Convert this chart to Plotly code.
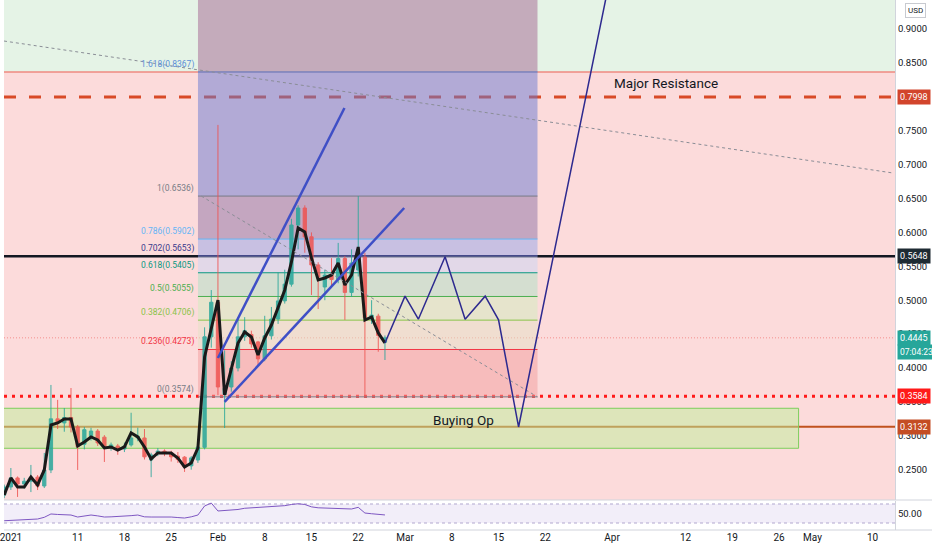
import plotly.graph_objects as go
import pandas as pd

# daily candles, Dec 31 2020 -> Feb 26 2021
dates = pd.date_range("2020-12-31", "2021-02-26", freq="D")
opens = [0.2127, 0.2245, 0.2378, 0.2289, 0.2330, 0.2390, 0.2260, 0.2496, 0.3250, 0.3190,
         0.3270, 0.3130, 0.2875, 0.2990, 0.3070, 0.2980, 0.2840, 0.2850, 0.2805, 0.2865,
         0.2968, 0.2968, 0.2643, 0.2740, 0.2775, 0.2745, 0.2700, 0.2685, 0.2556, 0.2643,
         0.2830, 0.4460, 0.4970, 0.3610, 0.3720, 0.4000, 0.4460, 0.4495, 0.4385, 0.4135,
         0.4475, 0.4722, 0.4990, 0.5237, 0.6109, 0.6360, 0.5935, 0.5520, 0.5195, 0.5375,
         0.5305, 0.5615, 0.5115, 0.5445, 0.5635, 0.4720, 0.4765, 0.4380]
highs = [0.2280, 0.2525, 0.2400, 0.2380, 0.2570, 0.2420, 0.2747, 0.3750, 0.3530, 0.3410,
         0.3705, 0.3160, 0.3130, 0.3118, 0.3100, 0.3010, 0.2900, 0.2880, 0.2900, 0.3340,
         0.3120, 0.3100, 0.2750, 0.2820, 0.2800, 0.2780, 0.2760, 0.2700, 0.2700, 0.2880,
         0.4600, 0.5150, 0.7585, 0.4260, 0.4100, 0.4750, 0.4750, 0.4550, 0.4400, 0.4770,
         0.4900, 0.5410, 0.5450, 0.6200, 0.6400, 0.6400, 0.6000, 0.5560, 0.5450, 0.5620,
         0.5845, 0.5650, 0.5750, 0.6536, 0.5700, 0.5000, 0.4800, 0.4480]
lows = [0.2080, 0.2201, 0.2098, 0.2220, 0.2170, 0.2200, 0.2230, 0.2450, 0.3100, 0.3060,
        0.3050, 0.2496, 0.2800, 0.2930, 0.2850, 0.2614, 0.2780, 0.2720, 0.2760, 0.2840,
        0.2920, 0.2650, 0.2390, 0.2700, 0.2700, 0.2620, 0.2600, 0.2467, 0.2500, 0.2600,
        0.2800, 0.4300, 0.3600, 0.3115, 0.3650, 0.3950, 0.4400, 0.4300, 0.4040, 0.4100,
        0.4420, 0.4650, 0.4950, 0.5200, 0.5750, 0.5700, 0.5077, 0.4870, 0.5000, 0.5200,
        0.5250, 0.4710, 0.5050, 0.5350, 0.3574, 0.4650, 0.4240, 0.4118]
closes = [0.2245, 0.2378, 0.2289, 0.2330, 0.2390, 0.2260, 0.2496, 0.3250, 0.3190, 0.3270,
          0.3130, 0.2840, 0.3090, 0.3070, 0.2895, 0.2840, 0.2865, 0.2790, 0.2850, 0.2968,
          0.2990, 0.2690, 0.2717, 0.2775, 0.2740, 0.2690, 0.2650, 0.2542, 0.2674, 0.2835,
          0.4460, 0.4970, 0.3720, 0.3700, 0.4000, 0.4460, 0.4550, 0.4355, 0.4135, 0.4475,
          0.4722, 0.4990, 0.5237, 0.6109, 0.6360, 0.5935, 0.5520, 0.5340, 0.5370, 0.5305,
          0.5615, 0.5115, 0.5548, 0.5635, 0.4743, 0.4780, 0.4480, 0.4445]
ma_line = [0.2127, 0.2378, 0.2245, 0.2245, 0.2393, 0.2275, 0.2496, 0.3160, 0.3189, 0.3248,
           0.3248, 0.2850, 0.2909, 0.2983, 0.2938, 0.2820, 0.2835, 0.2790, 0.2835, 0.3042,
           0.2983, 0.2835, 0.2658, 0.2747, 0.2747, 0.2747, 0.2673, 0.2540, 0.2599, 0.2820,
           0.4162, 0.4605, 0.5003, 0.3602, 0.3971, 0.4369, 0.4531, 0.4457, 0.4192, 0.4443,
           0.4634, 0.4900, 0.5151, 0.5564, 0.6065, 0.6006, 0.5623, 0.5298, 0.5328, 0.5372,
           0.5549, 0.5224, 0.5372, 0.5785, 0.4708, 0.4753, 0.4517, 0.4369]
rsi = [34.8, 35.5, 35.5, 36.3, 37.5, 38.4, 42.0, 49.0, 48.0, 47.5,
       46.8, 42.6, 44.0, 46.8, 45.0, 42.6, 43.0, 43.5, 44.7, 45.5,
       46.8, 43.0, 42.6, 43.0, 43.0, 42.6, 41.5, 40.5, 43.0, 46.8,
       65.8, 72.0, 55.3, 56.0, 57.0, 58.5, 61.0, 62.0, 61.6, 63.0,
       63.7, 65.0, 66.5, 69.0, 70.5, 69.0, 64.0, 62.0, 61.6, 61.6,
       61.0, 60.0, 59.5, 63.0, 51.0, 49.5, 48.0, 47.0]

# horizontal levels
major_res = 0.7998
pivot = 0.5648
dotted_support = 0.3584
buy_level = 0.3132
last_price = 0.4445
zone_top = 0.8367

# fib retracement
fib_start, fib_end = "2021-01-29 00:15", "2021-03-20 20:00"
fib_ratios = ["0", "0.236", "0.382", "0.5", "0.618", "0.702", "0.786", "1", "1.618"]
fib_prices = [0.3574, 0.4273, 0.4706, 0.5055, 0.5405, 0.5653, 0.5902, 0.6536, 0.8367]

# buying opportunity box
box_end = "2021-04-28 22:00"
box_low, box_high = 0.2816, 0.3406

# drawings
wedge_up_x = ["2021-02-01", "2021-02-19 22:30"]
wedge_up_y = [0.4148, 0.7835]
wedge_lo_x = ["2021-02-02", "2021-02-28 21:00"]
wedge_lo_y = [0.3500, 0.6360]
path_x = ["2021-02-26", "2021-03-01", "2021-03-03", "2021-03-07", "2021-03-10",
          "2021-03-13", "2021-03-15", "2021-03-18", "2021-04-01"]
path_y = [0.4369, 0.5060, 0.4720, 0.5640, 0.4720, 0.5060, 0.4710, 0.3130, 0.9900]
trend_x = ["2020-12-30 23:20", "2021-05-13"]
trend_y = [0.8823, 0.6877]
fib_trend_x = ["2021-01-29 12:00", fib_end]
fib_trend_y = [0.6536, 0.3574]

x_range = ["2020-12-30 23:20", "2021-05-13 08:24"]
y_range = [0.2053, 0.9428]

tick_dates = ["2021-01-01", "2021-01-11", "2021-01-18", "2021-01-25", "2021-02-01", "2021-02-08",
              "2021-02-15", "2021-02-22", "2021-03-01", "2021-03-08", "2021-03-15", "2021-03-22",
              "2021-04-01", "2021-04-12", "2021-04-19", "2021-04-26", "2021-05-01", "2021-05-10"]
tick_text = ["2021", "11", "18", "25", "Feb", "8", "15", "22", "Mar", "8", "15", "22",
             "Apr", "12", "19", "26", "May", "10"]
price_ticks = [0.25, 0.30, 0.35, 0.40, 0.45, 0.50, 0.55, 0.60, 0.65, 0.70, 0.75, 0.80, 0.85, 0.90]

FONT = "Roboto"
fig = go.Figure()

fig.add_trace(go.Candlestick(
    x=dates, open=opens, high=highs, low=lows, close=closes,
    increasing=dict(line=dict(color="#26a69a", width=1), fillcolor="#26a69a"),
    decreasing=dict(line=dict(color="#ef5350", width=1), fillcolor="#ef5350"),
    opacity=0.85, whiskerwidth=0, showlegend=False, hoverinfo="skip"))
fig.add_trace(go.Scatter(x=dates, y=ma_line, mode="lines",
                         line=dict(color="#1a1a1a", width=3), showlegend=False))
fig.add_trace(go.Scatter(x=trend_x, y=trend_y, mode="lines",
                         line=dict(color="#8a8d96", width=1, dash="3px,3px"), showlegend=False))
fig.add_trace(go.Scatter(x=fib_trend_x, y=fib_trend_y, mode="lines",
                         line=dict(color="#8a8d96", width=1, dash="3px,3px"), showlegend=False))
for wx, wy in [(wedge_up_x, wedge_up_y), (wedge_lo_x, wedge_lo_y)]:
    fig.add_trace(go.Scatter(x=wx, y=wy, mode="lines",
                             line=dict(color="#3f4fc6", width=2.5), showlegend=False))
fig.add_trace(go.Scatter(x=path_x, y=path_y, mode="lines",
                         line=dict(color="#2d2a8f", width=1.5), showlegend=False))
fig.add_trace(go.Scatter(x=dates, y=rsi, mode="lines", yaxis="y2",
                         line=dict(color="#7e57c2", width=1), showlegend=False))

shapes = []
# long/short zones
shapes.append(dict(type="rect", xref="paper", x0=0, x1=1, yref="y", y0=zone_top, y1=1.2,
                   fillcolor="#e5f3e6", line_width=0, layer="below"))
shapes.append(dict(type="rect", xref="paper", x0=0, x1=1, yref="y", y0=0, y1=zone_top,
                   fillcolor="#fcdbdb", line_width=0, layer="below"))
shapes.append(dict(type="line", xref="paper", x0=0, x1=1, yref="y", y0=zone_top, y1=zone_top,
                   line=dict(color="#ef8a80", width=1.5), layer="below"))
# horizontal levels
for lvl, col, w, dash in [(major_res, "#d84a27", 3, "12px,13px"),
                          (pivot, "#131722", 2.5, "solid"),
                          (dotted_support, "#ff1a1a", 3, "3px,5px"),
                          (buy_level, "#c1521e", 2, "solid"),
                          (last_price, "rgba(239,83,80,0.55)", 1, "1px,2px")]:
    shapes.append(dict(type="line", xref="paper", x0=0, x1=1, yref="y", y0=lvl, y1=lvl,
                       line=dict(color=col, width=w, dash=dash), layer="below"))
# fib bands and range overlay (semi transparent)
band_cols = ["rgba(242,157,157,0.5)", "rgba(228,225,197,0.5)", "rgba(208,237,189,0.5)",
             "rgba(172,225,197,0.5)", "rgba(200,213,245,0.5)", "rgba(148,165,233,0.5)",
             "rgba(140,113,165,0.5)", "rgba(104,121,209,0.5)", "rgba(163,99,144,0.5)"]
band_edges = fib_prices + [1.2]
for i, col in enumerate(band_cols):
    shapes.append(dict(type="rect", xref="x", x0=fib_start, x1=fib_end, yref="y",
                       y0=band_edges[i], y1=band_edges[i + 1], fillcolor=col, line_width=0,
                       layer="below"))
# buying box
shapes.append(dict(type="rect", xref="x", x0="2020-12-01", x1=box_end, yref="y",
                   y0=box_low, y1=box_high, fillcolor="rgba(190,239,153,0.5)",
                   line=dict(color="#7ccf5c", width=1), layer="below"))
# fib lines
fib_cols = ["#787b86", "#f23645", "#8bc34a", "#4caf50", "#089981", "#3a3a8c", "#64b5f6",
            "#787b86", "#5b8fd8"]
for p, col in zip(fib_prices, fib_cols):
    shapes.append(dict(type="line", xref="x", x0=fib_start, x1=fib_end, yref="y", y0=p, y1=p,
                       line=dict(color=col, width=1), layer="below"))
# rsi band
shapes.append(dict(type="rect", xref="paper", x0=0, x1=1, yref="y2", y0=30, y1=70,
                   fillcolor="rgba(126,87,194,0.1)", line_width=0, layer="below"))
for v in [30, 70]:
    shapes.append(dict(type="line", xref="paper", x0=0, x1=1, yref="y2", y0=v, y1=v,
                       line=dict(color="#b2a8cf", width=1, dash="3px,3px"), layer="below"))
# pane separators
shapes.append(dict(type="line", xref="paper", x0=0, x1=1.05, yref="paper", y0=0.0566, y1=0.0566,
                   line=dict(color="#d1d4dc", width=1)))
shapes.append(dict(type="line", xref="paper", x0=0, x1=1.05, yref="paper", y0=0, y1=0,
                   line=dict(color="#d1d4dc", width=1)))

annotations = []
for r, p, col in zip(fib_ratios, fib_prices, fib_cols):
    annotations.append(dict(x=fib_start, y=p, xref="x", yref="y", text=f"{r}({p:.4f})",
                            showarrow=False, xanchor="right", yanchor="bottom", xshift=-2,
                            font=dict(family=FONT, size=8.5, color=col)))
annotations.append(dict(x="2021-04-09", y=0.8204, xref="x", yref="y", text="Major Resistance",
                        showarrow=False, font=dict(family=FONT, size=13.5, color="#131722")))
annotations.append(dict(x="2021-03-09 19:00", y=0.3233, xref="x", yref="y", text="Buying Op",
                        showarrow=False, font=dict(family=FONT, size=13.5, color="#131722")))
for p, col in [(major_res, "#d2452c"), (pivot, "#1e2b33"), (last_price, "#26a69a"),
               (dotted_support, "#ff1a1a"), (buy_level, "#c44d24")]:
    annotations.append(dict(x=1, y=p, xref="paper", yref="y", text=f"{p:.4f}", showarrow=False,
                            xanchor="left", xshift=2, bgcolor=col, borderpad=2,
                            font=dict(family=FONT, size=9, color="white")))
annotations.append(dict(x=1, y=last_price, xref="paper", yref="y", text="07:04:23", showarrow=False,
                        xanchor="left", xshift=2, yshift=-14, bgcolor="#26a69a", borderpad=2,
                        font=dict(family=FONT, size=8.5, color="white")))
annotations.append(dict(x=1, y=1, xref="paper", yref="paper", text="USD", showarrow=False,
                        xanchor="left", yanchor="top", xshift=10, yshift=-3,
                        bordercolor="#c8cad0", borderwidth=1, borderpad=2,
                        font=dict(family=FONT, size=8, color="#131722")))

fig.update_layout(
    width=932, height=550, margin=dict(l=0, r=37, t=0, b=20),
    paper_bgcolor="white", plot_bgcolor="white", showlegend=False,
    shapes=shapes, annotations=annotations,
    xaxis=dict(type="date", range=x_range, tickvals=tick_dates, ticktext=tick_text,
               showgrid=False, zeroline=False, anchor="y2", rangeslider=dict(visible=False),
               ticks="", ticklabeloverflow="allow",
               tickfont=dict(family=FONT, size=10, color="#131722")),
    yaxis=dict(domain=[0.0566, 1], range=y_range, side="right", tickvals=price_ticks,
               ticktext=[f"{v:.4f}" for v in price_ticks], showgrid=False, zeroline=False,
               showline=True, linecolor="#d1d4dc", ticks="", automargin=False,
               tickfont=dict(family=FONT, size=9.5, color="#131722")),
    yaxis2=dict(domain=[0, 0.0547], range=[15.3, 76.3], side="right", tickvals=[50],
                ticktext=["50.00"], showgrid=False, zeroline=False, showline=True,
                linecolor="#d1d4dc", ticks="", automargin=False,
                tickfont=dict(family=FONT, size=9.5, color="#131722")),
)

fig.write_html("out.html", config={"displayModeBar": False},
               post_script="document.body.style.margin='0';document.body.style.overflow='hidden';")
